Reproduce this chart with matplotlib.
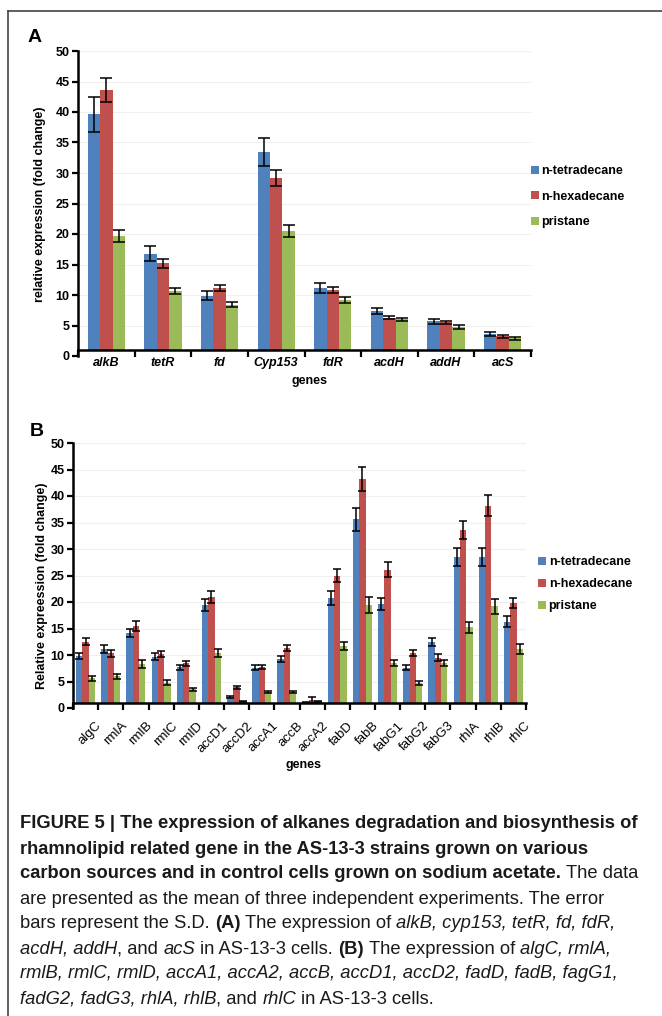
import numpy as np
import matplotlib
matplotlib.use("Agg")
import matplotlib.pyplot as plt
from matplotlib import font_manager
from matplotlib.lines import Line2D
from matplotlib.transforms import IdentityTransform, ScaledTranslation

W, H = 662, 1016

# ---- panel A data ----
genes_a = ["alkB", "tetR", "fd", "Cyp153", "fdR", "acdH", "addH", "acS"]
tetra_a = [39.6, 16.8, 9.9, 33.5, 11.2, 7.4, 5.7, 3.6]
tetra_a_sd = [2.8, 1.2, 0.7, 2.3, 0.8, 0.5, 0.4, 0.3]
hexa_a = [43.6, 15.2, 11.1, 29.2, 10.8, 6.3, 5.5, 3.2]
hexa_a_sd = [2.0, 0.7, 0.5, 1.3, 0.5, 0.3, 0.3, 0.2]
pris_a = [19.7, 10.6, 8.4, 20.5, 9.2, 6.0, 4.8, 2.9]
pris_a_sd = [1.0, 0.5, 0.4, 1.0, 0.5, 0.3, 0.3, 0.2]

# ---- panel B data ----
genes_b = ["algC", "rmlA", "rmlB", "rmlC", "rmlD", "accD1", "accD2", "accA1", "accB",
           "accA2", "fabD", "fabB", "fabG1", "fabG2", "fabG3", "rhlA", "rhlB", "rhlC"]
tetra_b = [9.8, 11.1, 14.2, 9.7, 7.7, 19.4, 2.1, 7.6, 9.3,
           1.1, 20.7, 35.6, 19.6, 7.6, 12.5, 28.5, 28.4, 16.3]
tetra_b_sd = [0.6, 0.7, 0.8, 0.6, 0.5, 1.1, 0.2, 0.5, 0.6,
              0.1, 1.3, 2.2, 1.1, 0.5, 0.8, 1.7, 1.7, 1.0]
hexa_b = [12.5, 10.3, 15.5, 10.2, 8.4, 21.0, 3.9, 7.8, 11.3,
          1.5, 25.0, 43.2, 26.1, 10.4, 9.5, 33.6, 38.2, 19.8]
hexa_b_sd = [0.7, 0.6, 0.9, 0.5, 0.5, 1.1, 0.3, 0.4, 0.6,
             0.6, 1.3, 2.2, 1.4, 0.6, 0.6, 1.7, 2.0, 1.0]
pris_b = [5.6, 6.0, 8.3, 4.8, 3.5, 10.4, 1.2, 3.1, 3.1,
          1.2, 11.7, 19.5, 8.5, 4.7, 8.5, 15.2, 19.2, 11.1]
pris_b_sd = [0.5, 0.5, 0.7, 0.4, 0.3, 0.8, 0.1, 0.2, 0.2,
             0.1, 0.8, 1.5, 0.6, 0.4, 0.6, 1.0, 1.4, 0.9]

series_names = ["n-tetradecane", "n-hexadecane", "pristane"]
colors = ["#4F81BD", "#C0504D", "#9BBB59"]

names = {f.name for f in font_manager.fontManager.ttflist}
chart_font = "Liberation Sans" if "Liberation Sans" in names else "DejaVu Sans"
cap_font = "Liberation Sans Narrow" if "Liberation Sans Narrow" in names else chart_font
plt.rcParams["font.family"] = [chart_font, "DejaVu Sans"]

fig = plt.figure(figsize=(W / 100, H / 100), dpi=100)


def px_axes(left, top, right, bottom):
    return fig.add_axes([left / W, 1 - bottom / H, (right - left) / W, (bottom - top) / H])


def draw_panel(ax, genes, vals, sds, width, capsize):
    x = np.arange(len(genes))
    for i, (name, v, e, c) in enumerate(zip(series_names, vals, sds, colors)):
        pos = x + (i - 1) * width
        v = np.asarray(v)
        # category axis crosses at 1, so bars start there
        ax.bar(pos, v - 1, width, bottom=1, color=c, label=name, zorder=2, linewidth=0)
        ax.errorbar(pos, v, yerr=e, fmt="none", ecolor="black", elinewidth=1.1,
                    capsize=capsize, capthick=1.1, zorder=3)
    ax.set_xlim(-0.5, len(genes) - 0.5)
    ax.set_ylim(0, 50)
    ax.set_yticks(range(0, 51, 5))
    for s in ["top", "right"]:
        ax.spines[s].set_visible(False)
    ax.spines["bottom"].set_position(("data", 1))
    ax.spines["bottom"].set_linewidth(1.8)
    ax.spines["left"].set_linewidth(1.8)
    ax.set_xticks(np.arange(-0.5, len(genes)))
    ax.set_xticklabels([])
    ax.set_xticks(x, minor=True)
    ax.tick_params(axis="x", which="major", direction="out", length=5, width=1.6)
    ax.tick_params(axis="y", direction="out", length=4, width=1.6, pad=2)
    ax.yaxis.grid(True, color="#efefef", linewidth=0.8)
    ax.set_axisbelow(True)
    for lab in ax.get_yticklabels():
        lab.set_fontweight("bold")
        lab.set_fontsize(9)
    return x


# ---- panel A ----
axA = px_axes(78, 51, 531, 356)
xa = draw_panel(axA, genes_a, [tetra_a, hexa_a, pris_a], [tetra_a_sd, hexa_a_sd, pris_a_sd], 0.22, 4.3)
axA.set_xticklabels(genes_a, minor=True, fontweight="bold", fontstyle="italic", fontsize=9)
axA.tick_params(axis="x", which="minor", length=0, pad=5)
axA.text(-0.084, 0.498, "relative expression (fold change)", transform=axA.transAxes, rotation=90,
         ha="center", va="center", fontsize=9, fontweight="bold")
axA.text(0.512, -0.082, "genes", transform=axA.transAxes, ha="center", va="center",
         fontsize=9, fontweight="bold")
axA.legend(loc="upper left", bbox_to_anchor=(531, H - 165), bbox_transform=IdentityTransform(),
           frameon=False, borderpad=0, borderaxespad=0, handlelength=0.6, handleheight=0.6,
           handletextpad=0.25, labelspacing=1.1, prop={"weight": "bold", "size": 9})

# ---- panel B ----
axB = px_axes(73, 443, 526, 708)
xb = draw_panel(axB, genes_b, [tetra_b, hexa_b, pris_b], [tetra_b_sd, hexa_b_sd, pris_b_sd], 0.25, 2.8)
axB.tick_params(axis="x", which="minor", length=0)
shift = ScaledTranslation(10 / 100, -17 / 100, fig.dpi_scale_trans)
for xi, g in zip(xb, genes_b):
    axB.text(xi, 1, g, transform=axB.transData + shift, rotation=45, ha="right", va="top",
             rotation_mode="anchor", fontsize=9.5)
axB.text(-0.068, 0.46, "Relative expreession (fold change)", transform=axB.transAxes, rotation=90,
         ha="center", va="center", fontsize=9, fontweight="bold")
axB.text(0.508, -0.215, "genes", transform=axB.transAxes, ha="center", va="center",
         fontsize=9, fontweight="bold")
axB.legend(loc="upper left", bbox_to_anchor=(538, H - 556), bbox_transform=IdentityTransform(),
           frameon=False, borderpad=0, borderaxespad=0, handlelength=0.6, handleheight=0.6,
           handletextpad=0.25, labelspacing=0.8, prop={"weight": "bold", "size": 9})

fig.text(35 / W, 1 - 37 / H, "A", fontsize=14, fontweight="bold", ha="center", va="center")
fig.text(37 / W, 1 - 432 / H, "B", fontsize=14, fontweight="bold", ha="center", va="center")

# frame lines
fig.add_artist(Line2D([8 / W, 1], [1 - 11 / H, 1 - 11 / H], transform=fig.transFigure,
                      color="#444444", linewidth=1.2))
fig.add_artist(Line2D([8 / W, 8 / W], [0, 1 - 11 / H], transform=fig.transFigure,
                      color="#444444", linewidth=1.2))

# ---- caption ----
caption = [
    [("FIGURE 5 | The expression of alkanes degradation and biosynthesis of", "b")],
    [("rhamnolipid related gene in the AS-13-3 strains grown on various", "b")],
    [("carbon sources and in control cells grown on sodium acetate.", "b"), (" The data", "r")],
    [("are presented as the mean of three independent experiments. The error", "r")],
    [("bars represent the S.D. ", "r"), ("(A)", "b"), (" The expression of ", "r"),
     ("alkB, cyp153, tetR, fd, fdR,", "i")],
    [("acdH, addH", "i"), (", and ", "r"), ("acS", "i"), (" in AS-13-3 cells. ", "r"),
     ("(B)", "b"), (" The expression of ", "r"), ("algC, rmlA,", "i")],
    [("rmlB, rmlC, rmlD, accA1, accA2, accB, accD1, accD2, fadD, fadB, fagG1,", "i")],
    [("fadG2, fadG3, rhlA, rhlB", "i"), (", and ", "r"), ("rhlC", "i"), (" in AS-13-3 cells.", "r")],
]
cap_lines_y = [822, 847, 872, 897, 922, 947, 972, 997]

renderer = fig.canvas.get_renderer()


def style(kind, size):
    kw = {"family": [cap_font, "DejaVu Sans"], "fontsize": size, "color": "#1a1a1a"}
    if kind == "b":
        kw["fontweight"] = "bold"
    elif kind == "i":
        kw["fontstyle"] = "italic"
    return kw


def width_of(s, kw):
    t1 = fig.text(0, 0, "I" + s + "I", transform=IdentityTransform(), **kw)
    t2 = fig.text(0, 0, "II", transform=IdentityTransform(), **kw)
    w = t1.get_window_extent(renderer).width - t2.get_window_extent(renderer).width
    t1.remove()
    t2.remove()
    return w


base = 10.0
w0 = width_of(caption[0][0][0], style("b", base))
cap_size = base * 620.0 / w0

for line, yc in zip(caption, cap_lines_y):
    x = 20.0
    for s, kind in line:
        kw = style(kind, cap_size)
        lead = s[: len(s) - len(s.lstrip())]
        x0 = x + (width_of(lead, kw) if lead else 0)
        if s.strip():
            fig.text(x0, H - yc, s.strip(), transform=IdentityTransform(), ha="left",
                     va="center_baseline", **kw)
        x += width_of(s, kw)

fig.savefig("out.png", dpi=100)
